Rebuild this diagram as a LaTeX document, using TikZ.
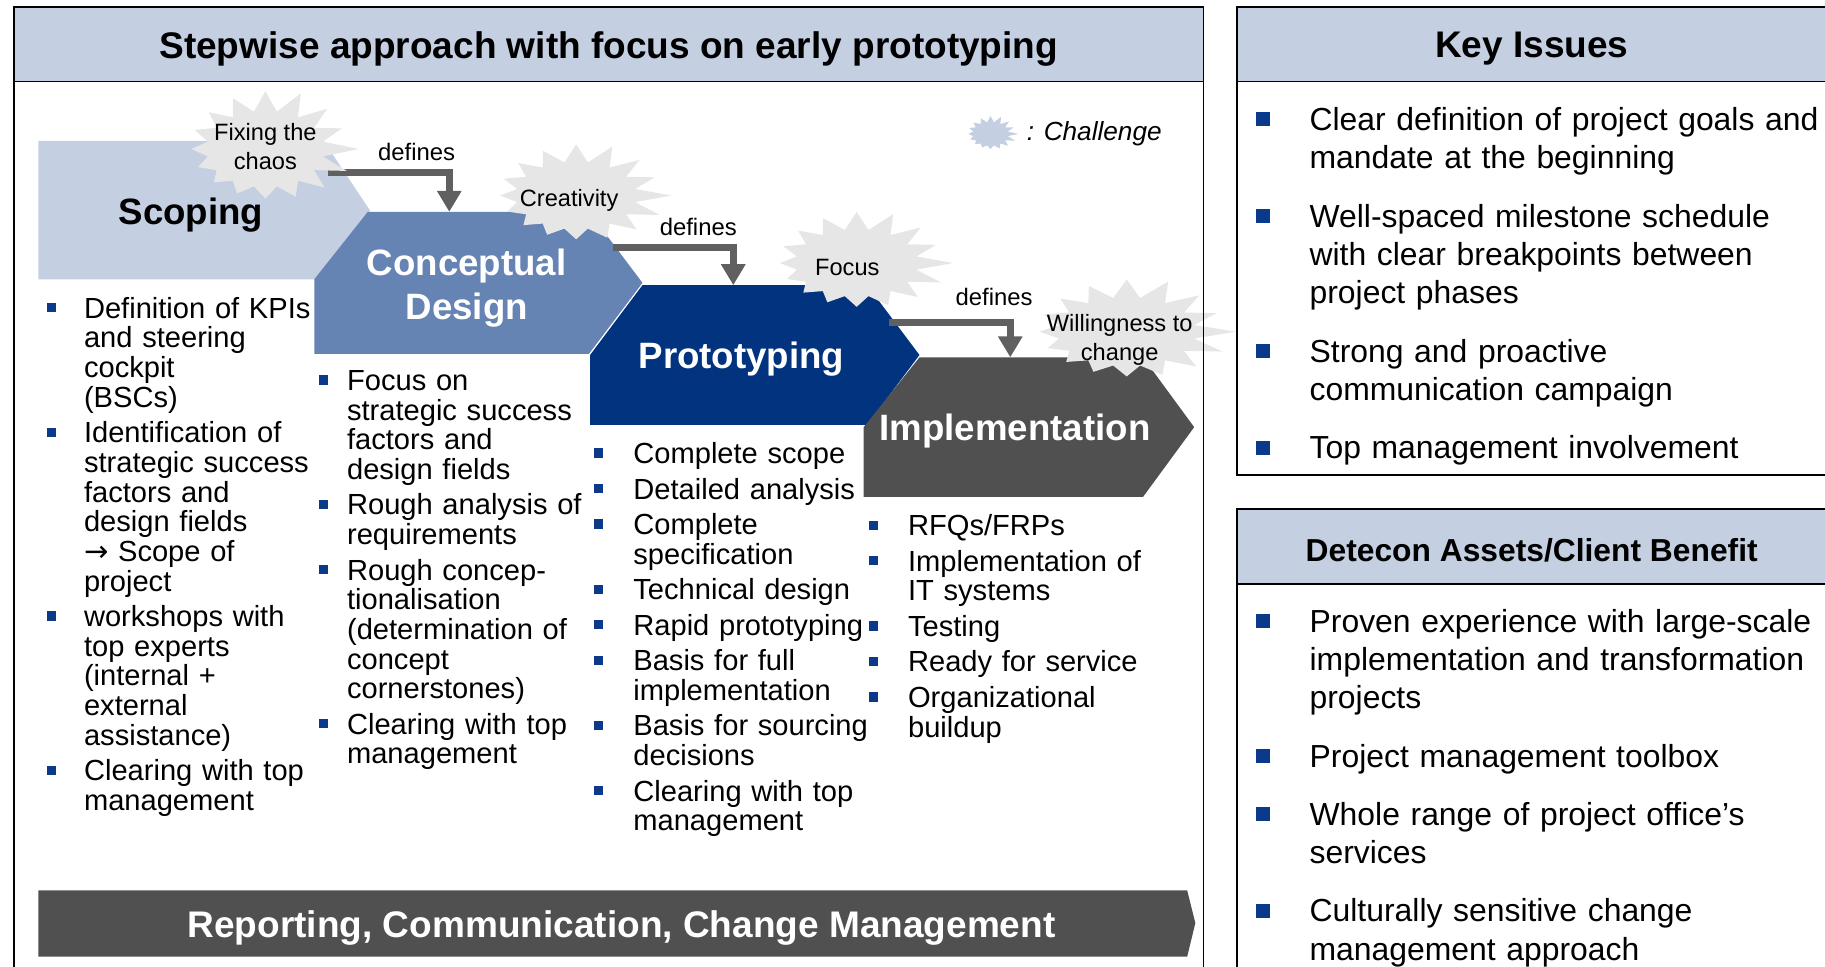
\documentclass[tikz,border=0pt]{standalone}
\usepackage{fontspec}
\setmainfont{Liberation Sans}
\newfontfamily\arrowfont{DejaVu Sans}
\usetikzlibrary{positioning,arrows.meta}

\definecolor{headblue}{HTML}{C4CFE2}
\definecolor{conceptblue}{HTML}{6583B3}
\definecolor{protoblue}{HTML}{02337F}
\definecolor{darkgrey}{HTML}{505050}
\definecolor{arrowgrey}{HTML}{606060}
\definecolor{stargrey}{HTML}{E6E6E6}
\definecolor{bulletblue}{HTML}{0C3A8A}

\newlength\bind
\newlength\bsize
\newlength\braise
\newcommand{\bmark}{\noindent\hangindent=\bind\hangafter=1%
  \makebox[\bind][l]{\raisebox{\braise}{\textcolor{bulletblue}{\rule{\bsize}{\bsize}}}}}
\newcommand{\bfirst}{\bmark}
\newcommand{\bitem}{\par\bmark}

\begin{document}
\begin{tikzpicture}[x=1pt, y=-1pt,
    panel/.style={draw=black, line width=1.6pt},
    head text/.style={font=\fontsize{31.8}{36}\selectfont\bfseries, inner sep=0pt},
    phase text/.style={font=\fontsize{31.5}{37}\selectfont\bfseries, align=center, inner sep=0pt},
    challenge text/.style={font=\fontsize{20.3}{25}\selectfont, align=center, inner sep=0pt},
    defines/.style={draw=arrowgrey, line width=6pt, -{Triangle[width=20pt,length=18pt]}},
    defines text/.style={font=\fontsize{20.5}{24}\selectfont, inner sep=0pt},
    phase list/.style={anchor=north west, inner sep=0pt, text width=300pt, align=left,
      font=\fontsize{25}{25.5}\selectfont,
      execute at begin node={\setlength\parindent{0pt}\setlength\bind{#1}\setlength\bsize{8pt}%
        \setlength\braise{5pt}\setlength\parskip{5pt}}},
    issue list/.style={anchor=north west, inner sep=0pt, text width=560pt, align=left,
      font=\fontsize{27.4}{33}\selectfont,
      execute at begin node={\setlength\parindent{0pt}\setlength\bind{46pt}\setlength\bsize{12pt}%
        \setlength\braise{3.5pt}\setlength\parskip{17pt}}}]

  \useasboundingbox (0,0) rectangle (1568,830);

  % header bars
  \fill[headblue] (12,6) rectangle (1034,70);
  \fill[headblue] (1063,6) rectangle (1600,70);
  \fill[headblue] (1063,437) rectangle (1600,502);

  % the four phases
  \fill[headblue] (33,121) -- (278,121) -- (318,181) -- (278,240) -- (33,240) -- cycle;
  \fill[conceptblue] (316,182) -- (506,182) -- (552,243) -- (506,304) -- (270,304) -- (270,240) -- cycle;
  \fill[protoblue] (552,245) -- (745,245) -- (790,305) -- (745,365) -- (507,365) -- (507,305) -- cycle;
  \fill[darkgrey] (790,307) -- (982,307) -- (1026,367) -- (982,427) -- (742,427) -- (742,367) -- cycle;

  \coordinate (scope out) at (282,148);
  \coordinate (concept in) at (386,182);
  \coordinate (concept out) at (527,213);
  \coordinate (proto in) at (630,245);
  \coordinate (proto out) at (764,277);
  \coordinate (impl in) at (868,307);

  \draw[defines] (scope out) -| (concept in) node[defines text, pos=0.365, above=6.5pt] {defines};
  \draw[defines] (concept out) -| (proto in) node[defines text, pos=0.354, above=7.5pt] {defines};
  \draw[defines] (proto out) -| (impl in) node[defines text, pos=0.433, above=11.5pt] {defines};

  % challenges (16 spikes each)
  \foreach \cx/\cy/\ra/\rb/\col in {228/128/80/52/stargrey, 495/168/82/46/stargrey,
      736/226/83/46/stargrey, 968/285/94/47/stargrey, 851/115/24/16/headblue}
    \fill[\col] ({\cx+\ra},\cy)
      \foreach \k in {1,...,31} {
        -- ({\cx+(isodd(\k) ? 0.63 : 1-0.22*abs(sin(\k*83)))*\ra*cos(\k*11.25)},
            {\cy+(isodd(\k) ? 0.63 : 1-0.22*abs(sin(\k*83)))*\rb*sin(\k*11.25)})
      } -- cycle;
  \coordinate (legend) at (851,115);

  \node[challenge text] (chaos text) at (228,126) {Fixing the\\chaos};
  \node[challenge text] (creativity text) at (489,172) {Creativity};
  \node[challenge text] (focus text) at (728,230) {Focus};
  \node[challenge text] (willingness text) at (962,292) {Willingness to\\change};
  \node[font=\fontsize{22.5}{26}\selectfont\itshape, anchor=west, inner sep=0pt] (legend text)
        [right=31pt of legend] {: Challenge};

  \node[phase text] (scope) at (164,184.5) {Scoping};
  \node[phase text, white] (concept) at (401,247.5) {Conceptual\\Design};
  \node[phase text, white] (proto) at (637,308.5) {Prototyping};
  \node[phase text, white] (impl) at (872,370.5) {Implementation};

  % bullet lists of the phases
  \node[phase list=32pt] (scope list) at (40,255) {%
    \bfirst Definition of KPIs\newline and steering\newline cockpit\newline (BSCs)
    \bitem Identification of\newline strategic success\newline factors and\newline design fields\newline {\arrowfont →} Scope of\newline project
    \bitem workshops with\newline top experts\newline (internal +\newline external\newline assistance)
    \bitem Clearing with top\newline management\par};
  \node[phase list=24pt] (concept list) at (274,318) {%
    \bfirst Focus on\newline strategic success\newline factors and\newline design fields
    \bitem Rough analysis of\newline requirements
    \bitem Rough concep-\newline tionalisation\newline (determination of\newline concept\newline cornerstones)
    \bitem Clearing with top\newline management\par};
  \node[phase list=34pt] (proto list) at (510,380) {%
    \bfirst Complete scope
    \bitem Detailed analysis
    \bitem Complete\newline specification
    \bitem Technical design
    \bitem Rapid prototyping
    \bitem Basis for full\newline implementation
    \bitem Basis for sourcing\newline decisions
    \bitem Clearing with top\newline management\par};
  \node[phase list=34pt] (impl list) at (746,442) {%
    \bfirst RFQs/FRPs
    \bitem Implementation of\newline IT systems
    \bitem Testing
    \bitem Ready for service
    \bitem Organizational\newline buildup\par};

  % bottom bar
  \fill[darkgrey] (33,765) -- (1020,765) -- (1027,793) -- (1020,822) -- (33,822) -- cycle;
  \node[head text, white] (report) at (534,797) {Reporting, Communication, Change Management};

  % titles
  \node[head text] (title) at (523,42) {Stepwise approach with focus on early prototyping};
  \node[head text] (key) at (1316,42) {Key Issues};
  \node[head text, font=\fontsize{27.3}{32}\selectfont\bfseries] (assets) at (1316,473) {Detecon Assets/Client Benefit};

  % right hand lists
  \node[issue list] (key list) at (1079,92) {%
    \bfirst Clear definition of project goals and\newline mandate at the beginning
    \bitem Well-spaced milestone schedule\newline with clear breakpoints between\newline project phases
    \bitem Strong and proactive\newline communication campaign
    \bitem Top management involvement\par};
  \node[issue list] (assets list) at (1079,523) {%
    \bfirst Proven experience with large-scale\newline implementation and transformation\newline projects
    \bitem Project management toolbox
    \bitem Whole range of project office’s\newline services
    \bitem Culturally sensitive change\newline management approach\par};

  % frames
  \draw[panel] (12,6) rectangle (1034,850);
  \draw[panel] (12,70) -- (1034,70);
  \draw[panel] (1063,6) rectangle (1600,408);
  \draw[panel] (1063,70) -- (1600,70);
  \draw[panel] (1063,437) rectangle (1600,850);
  \draw[panel] (1063,502) -- (1600,502);
\end{tikzpicture}
\end{document}
